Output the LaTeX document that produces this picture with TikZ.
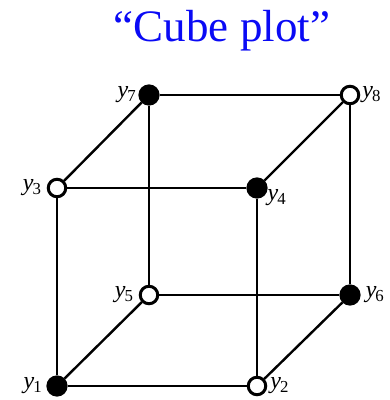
\documentclass[tikz,border=0pt]{standalone}
\usepackage{fontspec}
\setmainfont{Liberation Serif}
\usepackage{xcolor}
\usetikzlibrary{positioning}

\definecolor{titleblue}{RGB}{10,10,245}

\tikzset{
	vfull/.style={circle,draw=black,fill=black,line width=1.2pt,inner sep=0pt,minimum size=20pt},
	vempty/.style={circle,draw=black,fill=white,line width=3pt,inner sep=0pt,minimum size=17.5pt},
	edge/.style={line width=2.4pt},
	lab/.style={font=\fontsize{24}{28}\selectfont,inner sep=0pt}
}
\newcommand{\ylab}[1]{\textit{y}\kern-1pt\textsubscript{#1}}

\begin{document}
\begin{tikzpicture}[x=1pt,y=-1pt]
	\useasboundingbox (0,0) rectangle (390,400);

	\node[titleblue,font=\fontsize{45}{52}\selectfont] (title) at (222,31) {“Cube plot”};

	% front face
	\node[vfull]  (y1) at (57,386) {};
	\node[vempty] (y2) at (257,386) {};
	\node[vempty] (y3) at (57,188) {};
	\node[vfull]  (y4) at (257,188) {};
	% back face
	\node[vempty] (y5) at (149,295) {};
	\node[vfull]  (y6) at (350,295) {};
	\node[vfull]  (y7) at (149,95) {};
	\node[vempty] (y8) at (350,95) {};

	\draw[edge] (y1)--(y2) (y2)--(y4) (y4)--(y3) (y3)--(y1);
	\draw[edge] (y5)--(y6) (y6)--(y8) (y8)--(y7) (y7)--(y5);
	\draw[edge] (y1)--(y5) (y2)--(y6) (y3)--(y7) (y4)--(y8);

	\node[lab,left=4pt of y1]  (l1) {\ylab{1}};
	\node[lab,right=3pt of y2] (l2) {\ylab{2}};
	\node[lab,left=5pt of y3]  (l3) {\ylab{3}};
	\node[lab,below right=-6pt and 3pt of y4] (l4) {\ylab{4}};
	\node[lab,left=5pt of y5]  (l5) {\ylab{5}};
	\node[lab,right=5pt of y6] (l6) {\ylab{6}};
	\node[lab,left=2pt of y7]  (l7) {\ylab{7}};
	\node[lab,right=2pt of y8] (l8) {\ylab{8}};
\end{tikzpicture}
\end{document}
